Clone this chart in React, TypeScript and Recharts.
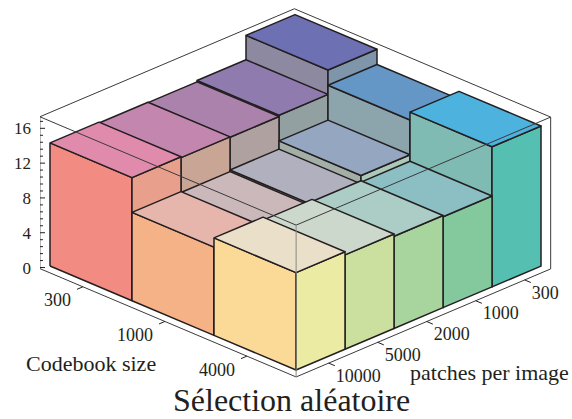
import { Scatter, ScatterChart, XAxis, YAxis } from "recharts";

const codebookSizes = ["300", "1000", "4000"];
const patchCounts = ["10000", "5000", "2000", "1000", "300"];

// bar heights, one list per codebook size, in the order of patchCounts
const valuesCodebook300 = [14.15, 14.05, 14.0, 14.15, 16.95];
const valuesCodebook1000 = [10.15, 10.05, 10.25, 11.2, 15.2];
const valuesCodebook4000 = [11.2, 10.85, 10.6, 10.45, 16.1];
const values = [valuesCodebook300, valuesCodebook1000, valuesCodebook4000];

const zTicks = [0, 4, 8, 12, 16];
const zMinorTicks = [
  0.8, 1.6, 2.4, 3.2, 4.8, 5.6, 6.4, 7.2, 8.8, 9.6, 10.4, 11.2, 12.8, 13.6, 14.4, 15.2, 16.8,
];

const topColors = [
  ["#e18bac", "#c386af", "#ab82ac", "#8f7bae", "#6e70b4"],
  ["#e6b6ac", "#cbb8ba", "#b0b0be", "#95a6c1", "#6496c6"],
  ["#eae0ca", "#cdd8cc", "#acccc6", "#8bbfc3", "#4db2de"],
];
const rightFaceColors = [
  ["#e8a08c", "#c9a596", "#aea1a0", "#93a0a2", "#7f95a9"],
  ["#eabfa0", "#ccc0a8", "#b2bcae", "#acc8b9", "#7fa8b0"],
  ["#ebeba3", "#cbe09f", "#a8d49e", "#84c99e", "#55bfb2"],
];
const leftFaceColors = [
  ["#f28b82", "#d9888f", "#bd8b9a", "#9a8a9c", "#8d89a0"],
  ["#f6b287", "#dcb59a", "#c0b3a6", "#a3aea6", "#8ca5ad"],
  ["#fbd996", "#dcd79f", "#bfd0a8", "#a2c6ac", "#7fbab3"],
];

const WIDTH = 572;
const HEIGHT = 419;
const FONT = "'Liberation Serif', serif";
const INK = "#231f20";

// oblique projection of (codebook cell, patches cell, height) on the two chart axes
const project = (u: number, v: number, z: number) => ({
  x: 10 + 82 * u + 49 * v,
  y: 0.172 + z - 3.985 * u + 2.39 * v,
});

const U_MIN = -0.025;
const U_MAX = 3.1;
const V_MIN = -0.165;
const V_MAX = 5.03;
const Z_TOP = 17.45;

const nothing = () => null;

const facet = (pts: { x: number; y: number }[], fill: string) => (
  <Scatter
    data={[...pts, pts[0]]}
    shape={nothing}
    isAnimationActive={false}
    line={{ stroke: INK, strokeWidth: 1.5, fill, strokeLinejoin: "round" }}
  />
);

const renderBar = (c: number, p: number) => {
  const z = values[c][p];
  return [
    facet(
      [project(c, p, 0), project(c + 1, p, 0), project(c + 1, p, z), project(c, p, z)],
      leftFaceColors[c][p],
    ),
    facet(
      [project(c + 1, p, 0), project(c + 1, p + 1, 0), project(c + 1, p + 1, z), project(c + 1, p, z)],
      rightFaceColors[c][p],
    ),
    facet(
      [project(c, p, z), project(c + 1, p, z), project(c + 1, p + 1, z), project(c, p + 1, z)],
      topColors[c][p],
    ),
  ];
};

const boxLines = [
  [project(U_MIN, V_MIN, Z_TOP), project(U_MIN, V_MAX, Z_TOP)],
  [project(U_MIN, V_MAX, Z_TOP), project(U_MAX, V_MAX, Z_TOP)],
  [project(U_MIN, V_MIN, Z_TOP), project(U_MAX, V_MIN, Z_TOP)],
  [project(U_MAX, V_MIN, Z_TOP), project(U_MAX, V_MAX, Z_TOP)],
  [project(U_MIN, V_MIN, 0), project(U_MIN, V_MIN, Z_TOP)],
  [project(U_MAX, V_MAX, 0), project(U_MAX, V_MAX, Z_TOP)],
  [project(U_MIN, V_MIN, 0), project(U_MAX, V_MIN, 0)],
  [project(U_MAX, V_MIN, 0), project(U_MAX, V_MAX, 0)],
];

const ZTick = ({ x, y, payload }: any) => {
  const major = zTicks.includes(payload.value);
  return (
    <g>
      <line x1={x} x2={x + (major ? 5 : 3)} y1={y} y2={y} stroke={INK} strokeWidth={1} />
      {major && (
        <text x={x - 9} y={y + 6} textAnchor="end" fontFamily={FONT} fontSize={17} fill={INK}>
          {payload.value}
        </text>
      )}
    </g>
  );
};

const axisLabel =
  (anchor: "start" | "end", dx: number, dy: number) =>
  ({ cx, cy, payload }: any) => (
    <text x={cx + dx} y={cy + dy} textAnchor={anchor} fontFamily={FONT} fontSize={18} fill={INK}>
      {payload.label}
    </text>
  );

const App = () => {
  const bars: any[] = [];
  codebookSizes.forEach((_, c) => {
    for (let p = patchCounts.length - 1; p >= 0; p--) bars.push(...renderBar(c, p));
  });

  const codebookTickEnds = codebookSizes.map((label, c) => ({
    ...project(c + 0.5, V_MIN - 0.12, 0),
    label,
  }));
  const patchTickEnds = patchCounts.map((label, p) => ({
    ...project(U_MAX + 0.075, p + 0.5, 0),
    label,
  }));

  return (
    <div style={{ position: "absolute", left: 0, top: 0 }}>
      <ScatterChart width={WIDTH} height={HEIGHT} margin={{ top: 0, right: 0, bottom: 0, left: 0 }}>
        <XAxis hide type="number" dataKey="x" domain={[0, 532]} allowDataOverflow />
        <YAxis
          type="number"
          dataKey="y"
          width={40}
          domain={[-17.41, 30.75]}
          allowDataOverflow
          ticks={zMinorTicks.concat(zTicks)}
          interval={0}
          axisLine={false}
          tickLine={false}
          tickSize={0}
          tickMargin={0}
          tick={<ZTick />}
        />
        {bars.map((f, i) => ({ ...f, key: `facet-${i}` }))}
        {boxLines.map((pts, i) => (
          <Scatter
            key={`box-${i}`}
            data={pts}
            shape={nothing}
            isAnimationActive={false}
            line={{ stroke: "#3a3a3a", strokeWidth: 1, fill: "none" }}
          />
        ))}
        <Scatter
          data={[project(U_MAX, V_MIN, 0), project(U_MAX, V_MIN, Z_TOP)]}
          shape={nothing}
          isAnimationActive={false}
          line={{ stroke: "#8a8a80", strokeWidth: 1, fill: "none" }}
        />
        {codebookTickEnds.map((end, c) => (
          <Scatter
            key={`cb-tick-${c}`}
            data={[end, project(c + 0.5, V_MIN, 0)]}
            shape={nothing}
            isAnimationActive={false}
            line={{ stroke: INK, strokeWidth: 1, fill: "none" }}
          />
        ))}
        {patchTickEnds.map((end, p) => (
          <Scatter
            key={`patch-tick-${p}`}
            data={[end, project(U_MAX, p + 0.5, 0)]}
            shape={nothing}
            isAnimationActive={false}
            line={{ stroke: INK, strokeWidth: 1, fill: "none" }}
          />
        ))}
        <Scatter data={codebookTickEnds} isAnimationActive={false} shape={axisLabel("end", -6, 17)} />
        <Scatter data={patchTickEnds} isAnimationActive={false} shape={axisLabel("start", 1, 16)} />
        <text x={26} y={371} fontFamily={FONT} fontSize={22} fill={INK}>
          Codebook size
        </text>
        <text x={410} y={380} fontFamily={FONT} fontSize={22} fill={INK}>
          patches per image
        </text>
        <text x={173} y={411} fontFamily={FONT} fontSize={32} fill={INK}>
          Sélection aléatoire
        </text>
      </ScatterChart>
    </div>
  );
};

export default App;
